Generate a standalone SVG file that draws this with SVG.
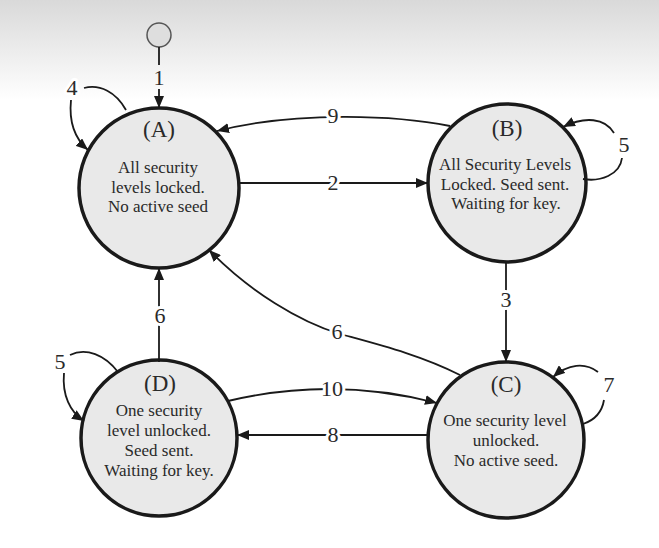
<svg xmlns="http://www.w3.org/2000/svg" width="659" height="548" viewBox="0 0 659 548">
<defs>
<linearGradient id="bg" x1="0" y1="0" x2="0" y2="1">
<stop offset="0" stop-color="#d9d9d9"/>
<stop offset="1" stop-color="#ffffff"/>
</linearGradient>
<marker id="arr" viewBox="0 0 12 10" refX="12" refY="5" markerWidth="12" markerHeight="10" markerUnits="userSpaceOnUse" orient="auto">
<path d="M0,0 L12,5 L0,10 z" fill="#1a1a1a"/>
</marker>
<style>
.st{fill:#e9e9e9;stroke:#1a1a1a;stroke-width:3.5}
.init{fill:#dedede;stroke:#555;stroke-width:1.5}
.ttl{font-family:"Liberation Serif",serif;font-size:23px;fill:#2a2a2a;text-anchor:middle}
.txt{font-family:"Liberation Serif",serif;font-size:17px;fill:#2a2a2a;text-anchor:middle}
.ln{fill:none;stroke:#1a1a1a;stroke-width:1.8}
.ar{marker-end:url(#arr)}
.lbl{font-family:"Liberation Serif",serif;font-size:22px;fill:#2a2a2a;text-anchor:middle;stroke:#fff;stroke-width:6;paint-order:stroke;stroke-linejoin:round}
</style>
</defs>
<rect width="659" height="548" fill="#fff"/>
<rect width="659" height="100" fill="url(#bg)"/>

<g id="init"><circle class="init" cx="159" cy="35" r="12"/></g>

<g id="nodeA">
<circle class="st" cx="159" cy="188" r="80"/>
<text class="ttl" x="159" y="137">(A)</text>
<text class="txt" x="158" y="173">All security</text>
<text class="txt" x="158" y="193">levels locked.</text>
<text class="txt" x="158" y="212">No active seed</text>
</g>

<g id="nodeB">
<circle class="st" cx="507" cy="183" r="79"/>
<text class="ttl" x="507" y="136">(B)</text>
<text class="txt" x="505" y="170">All Security Levels</text>
<text class="txt" x="505" y="190">Locked. Seed sent.</text>
<text class="txt" x="506" y="209">Waiting for key.</text>
</g>

<g id="nodeC">
<circle class="st" cx="506" cy="440" r="78"/>
<text class="ttl" x="506" y="392">(C)</text>
<text class="txt" x="505" y="426">One security level</text>
<text class="txt" x="506" y="446">unlocked.</text>
<text class="txt" x="506" y="466">No active seed.</text>
</g>

<g id="nodeD">
<circle class="st" cx="159" cy="438" r="78"/>
<text class="ttl" x="160" y="391">(D)</text>
<text class="txt" x="159" y="416">One security</text>
<text class="txt" x="159" y="436">level unlocked.</text>
<text class="txt" x="159" y="456">Seed sent.</text>
<text class="txt" x="159" y="476">Waiting for key.</text>
</g>

<g id="connectors">
<path class="ln" d="M159,47 L159,65"/>
<path class="ln ar" d="M159,89 L159,108"/>
<text class="lbl" x="159" y="85" style="stroke:none">1</text>

<path class="ln" d="M126,110 C116,92 100,84 84,88"/>
<path class="ln ar" d="M71,100 C69,120 74,138 88,150"/>
<text class="lbl" x="72" y="95">4</text>

<path class="ln ar" d="M450,126 C400,116 300,110 217,131"/>
<text class="lbl" x="333" y="123">9</text>

<path class="ln ar" d="M239,183 L428,183"/>
<text class="lbl" x="333" y="190">2</text>

<path class="ln" d="M583,179 C600,182 620,175 622,158"/>
<path class="ln ar" d="M614,133 C605,118 585,116 563,127"/>
<text class="lbl" x="624" y="152">5</text>

<path class="ln ar" d="M506,262 L506,362"/>
<text class="lbl" x="506" y="307">3</text>

<path class="ln ar" d="M460,375 C420,355 380,345 340,334 C300,322 250,292 209,250"/>
<text class="lbl" x="337" y="339">6</text>

<path class="ln ar" d="M159,362 L159,268"/>
<text class="lbl" x="160" y="323">6</text>

<path class="ln" d="M118,372 C105,355 86,347 70,355"/>
<path class="ln ar" d="M64,373 C62,395 70,412 84,421"/>
<text class="lbl" x="60" y="369">5</text>

<path class="ln ar" d="M228,401 Q333,376 437,403"/>
<text class="lbl" x="332" y="396">10</text>

<path class="ln ar" d="M428,435 L237,435"/>
<text class="lbl" x="333" y="442">8</text>

<path class="ln ar" d="M598,372 C585,362 568,364 553,377"/>
<path class="ln" d="M604,400 C602,412 595,420 583,424"/>
<text class="lbl" x="609" y="392">7</text>
</g>
</svg>
